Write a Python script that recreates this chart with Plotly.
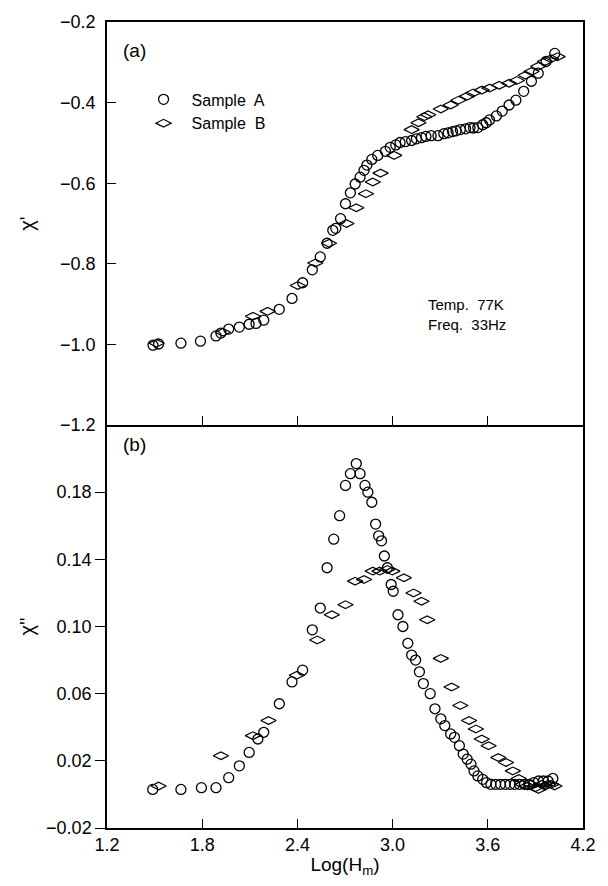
import plotly.graph_objects as go
from plotly.subplots import make_subplots

# ---- panel (a): chi' ----
top_a_x = [1.49, 1.525, 1.666, 1.789, 1.887, 1.918, 1.967, 2.034, 2.096, 2.139, 2.188, 2.286,
           2.366, 2.433, 2.494, 2.544, 2.587, 2.623, 2.642, 2.672, 2.703, 2.734, 2.764, 2.795,
           2.820, 2.838, 2.869, 2.906, 2.955, 2.985, 3.02, 3.047, 3.08, 3.120, 3.15, 3.182,
           3.21, 3.243, 3.286, 3.323, 3.35, 3.378, 3.40, 3.427, 3.46, 3.488, 3.51, 3.537,
           3.568, 3.59, 3.611, 3.654, 3.691, 3.734, 3.777, 3.826, 3.875, 3.918, 3.967, 4.022]
top_a_y = [-1.002, -0.999, -0.997, -0.992, -0.979, -0.972, -0.962, -0.957, -0.950, -0.948, -0.940, -0.913,
           -0.886, -0.847, -0.815, -0.783, -0.749, -0.717, -0.712, -0.688, -0.651, -0.624, -0.602, -0.585,
           -0.568, -0.555, -0.541, -0.531, -0.521, -0.511, -0.505, -0.499, -0.497, -0.494, -0.490, -0.487,
           -0.484, -0.482, -0.482, -0.477, -0.475, -0.472, -0.470, -0.467, -0.465, -0.462, -0.463, -0.462,
           -0.455, -0.450, -0.443, -0.433, -0.421, -0.406, -0.394, -0.372, -0.347, -0.327, -0.298, -0.278]

top_b_x = [1.513, 1.930, 2.120, 2.212, 2.402, 2.513, 2.599, 2.709, 2.771, 2.832, 2.875, 2.924,
           3.010, 3.120, 3.163, 3.200, 3.224, 3.304, 3.366, 3.415, 3.470, 3.507, 3.562, 3.611,
           3.672, 3.734, 3.783, 3.838, 3.875, 3.918, 3.961, 3.998, 4.040]
top_b_y = [-0.997, -0.970, -0.930, -0.918, -0.854, -0.798, -0.749, -0.700, -0.661, -0.626, -0.597, -0.575,
           -0.531, -0.467, -0.450, -0.435, -0.430, -0.416, -0.406, -0.394, -0.384, -0.376, -0.369, -0.364,
           -0.357, -0.352, -0.345, -0.332, -0.323, -0.310, -0.298, -0.291, -0.286]

# ---- panel (b): chi'' ----
bot_a_x = [1.488, 1.666, 1.795, 1.887, 1.967, 2.034, 2.096, 2.151, 2.188, 2.286, 2.366, 2.433,
           2.494, 2.544, 2.587, 2.629, 2.666, 2.703, 2.734, 2.771, 2.795, 2.826, 2.844, 2.869,
           2.893, 2.912, 2.930, 2.948, 2.967, 2.991, 3.004, 3.034, 3.065, 3.096, 3.120, 3.145,
           3.169, 3.194, 3.237, 3.267, 3.304, 3.329, 3.366, 3.390, 3.421, 3.445, 3.470, 3.494,
           3.513, 3.537, 3.568, 3.592, 3.62, 3.65, 3.68, 3.71, 3.74, 3.77, 3.80, 3.83,
           3.86, 3.89, 3.92, 3.95, 3.98, 4.01]
bot_a_y = [0.003, 0.003, 0.004, 0.004, 0.010, 0.017, 0.025, 0.033, 0.037, 0.054, 0.067, 0.074,
           0.098, 0.111, 0.135, 0.152, 0.166, 0.184, 0.191, 0.197, 0.191, 0.184, 0.180, 0.174,
           0.161, 0.154, 0.151, 0.142, 0.135, 0.125, 0.121, 0.107, 0.100, 0.090, 0.083, 0.080,
           0.073, 0.066, 0.060, 0.051, 0.045, 0.041, 0.036, 0.034, 0.029, 0.024, 0.021, 0.018,
           0.014, 0.011, 0.009, 0.007, 0.006, 0.006, 0.006, 0.006, 0.006, 0.006, 0.006, 0.006,
           0.006, 0.007, 0.008, 0.008, 0.008, 0.0095]

bot_b_x = [1.525, 1.918, 2.120, 2.218, 2.396, 2.525, 2.617, 2.703, 2.764, 2.820, 2.875, 2.918,
           2.967, 2.998, 3.071, 3.132, 3.182, 3.218, 3.304, 3.372, 3.427, 3.482, 3.525, 3.562,
           3.605, 3.666, 3.715, 3.758, 3.795, 3.82, 3.85, 3.87, 3.90, 3.92, 3.94, 3.96,
           3.98, 4.00, 4.02]
bot_b_y = [0.005, 0.023, 0.035, 0.044, 0.071, 0.092, 0.107, 0.113, 0.127, 0.128, 0.133, 0.133,
           0.134, 0.133, 0.129, 0.120, 0.115, 0.104, 0.081, 0.064, 0.053, 0.044, 0.039, 0.033,
           0.029, 0.022, 0.019, 0.014, 0.0095, 0.006, 0.005, 0.006, 0.004, 0.003, 0.006, 0.005,
           0.006, 0.006, 0.005]

x_ticks = [1.2, 1.8, 2.4, 3.0, 3.6, 4.2]
top_y_ticks = [-1.2, -1.0, -0.8, -0.6, -0.4, -0.2]
bot_y_ticks = [-0.02, 0.02, 0.06, 0.10, 0.14, 0.18]

FONT = "Liberation Sans"
circ = dict(symbol="circle-open", size=10, color="black", line=dict(width=1.3, color="black"))
diam = dict(symbol="diamond-wide-open", size=11, color="black", line=dict(width=1.2, color="black"))

fig = make_subplots(rows=2, cols=1, shared_xaxes=True, vertical_spacing=0)

fig.add_trace(go.Scatter(x=top_a_x, y=top_a_y, mode="markers", marker=circ, name="Sample  A",
                         legendgroup="A"), row=1, col=1)
fig.add_trace(go.Scatter(x=top_b_x, y=top_b_y, mode="markers", marker=diam, name="Sample  B",
                         legendgroup="B"), row=1, col=1)
fig.add_trace(go.Scatter(x=bot_a_x, y=bot_a_y, mode="markers", marker=circ, name="Sample  A",
                         legendgroup="A", showlegend=False), row=2, col=1)
fig.add_trace(go.Scatter(x=bot_b_x, y=bot_b_y, mode="markers", marker=diam, name="Sample  B",
                         legendgroup="B", showlegend=False), row=2, col=1)

axis_common = dict(showline=True, linecolor="black", linewidth=1.5,
                   showgrid=False, zeroline=False, tickcolor="black", tickwidth=1.3,
                   tickfont=dict(family=FONT, size=18, color="black"))

fig.update_xaxes(range=[1.2, 4.2], tickvals=x_ticks, tickformat=".1f", ticks="inside", ticklen=9,
                 mirror=True, row=1, col=1, **axis_common)
fig.update_xaxes(range=[1.2, 4.2], tickvals=x_ticks, tickformat=".1f", ticks="inside", ticklen=9,
                 mirror=False,
                 title=dict(text="Log(H<sub>m</sub>)", font=dict(family=FONT, size=19, color="black"),
                            standoff=3), row=2, col=1, **axis_common)
fig.update_yaxes(range=[-1.2, -0.2], tickvals=top_y_ticks, tickformat=".1f", ticks="inside", ticklen=9,
                 ticklabelstandoff=6, mirror=True,
                 title=dict(text="χ'", font=dict(family=FONT, size=20, color="black"), standoff=20),
                 row=1, col=1, **axis_common)
fig.update_yaxes(range=[-0.02, 0.22], tickvals=bot_y_ticks, tickformat=".2f", ticks="outside", ticklen=10,
                 mirror=True,
                 title=dict(text="χ''", font=dict(family=FONT, size=20, color="black"), standoff=6),
                 row=2, col=1, **axis_common)

fig.add_annotation(text="(a)", xref="x domain", yref="y domain", x=0.029, y=0.929,
                   xanchor="left", yanchor="middle", showarrow=False,
                   font=dict(family=FONT, size=19, color="black"))
fig.add_annotation(text="(b)", xref="x2 domain", yref="y2 domain", x=0.029, y=0.951,
                   xanchor="left", yanchor="middle", showarrow=False,
                   font=dict(family=FONT, size=19, color="black"))
fig.add_annotation(text="Temp.  77K<br>Freq.  33Hz", xref="x domain", yref="y domain", x=0.671, y=0.275,
                   xanchor="left", yanchor="middle", align="left", showarrow=False,
                   font=dict(family=FONT, size=15, color="black"))

fig.update_layout(
    width=608, height=886,
    margin=dict(l=107, r=12, t=13, b=58),
    paper_bgcolor="white", plot_bgcolor="white",
    showlegend=True,
    legend=dict(x=0.06, y=0.925, xanchor="left", yanchor="top", bgcolor="rgba(0,0,0,0)",
                font=dict(family=FONT, size=16, color="black"), tracegroupgap=0,
                itemwidth=46),
)

fig.write_html("out.html")
